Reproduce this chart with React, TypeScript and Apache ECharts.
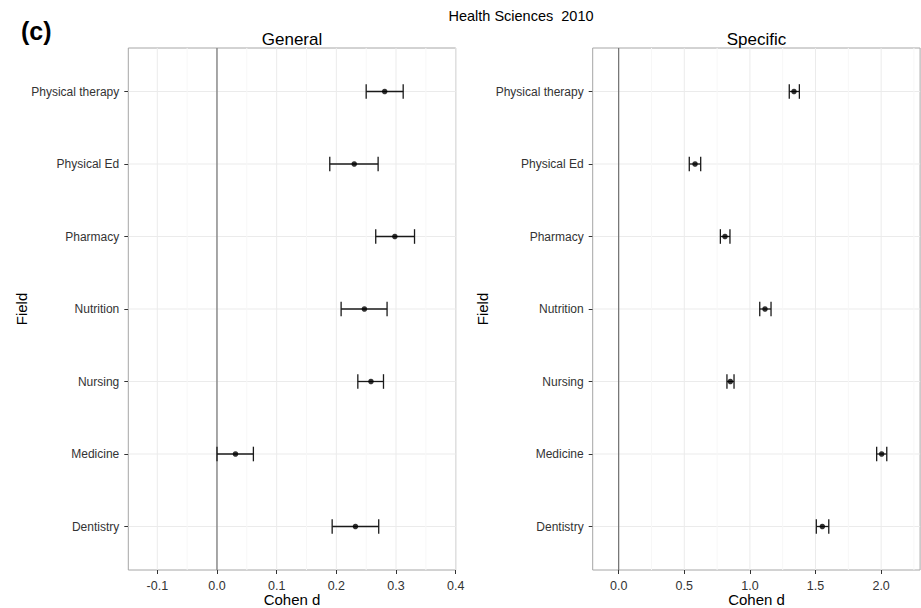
import React, { useEffect, useRef } from "react";
import * as echarts from "echarts";

// Fields, listed from the top row to the bottom row
const fields = [
  "Physical therapy",
  "Physical Ed",
  "Pharmacy",
  "Nutrition",
  "Nursing",
  "Medicine",
  "Dentistry",
];

// General: Cohen d with lower / upper interval ends
const generalD = [0.281, 0.23, 0.298, 0.247, 0.258, 0.031, 0.232];
const generalLo = [0.25, 0.189, 0.266, 0.208, 0.236, 0.0, 0.193];
const generalHi = [0.312, 0.27, 0.331, 0.285, 0.279, 0.061, 0.271];

// Specific: Cohen d with lower / upper interval ends
const specificD = [1.336, 0.582, 0.81, 1.115, 0.851, 2.004, 1.552];
const specificLo = [1.3, 0.538, 0.775, 1.075, 0.825, 1.966, 1.506];
const specificHi = [1.377, 0.625, 0.848, 1.161, 0.879, 2.043, 1.601];

// Tick labels and minor grid positions
const generalTicks = [-0.1, 0.0, 0.1, 0.2, 0.3, 0.4];
const generalMinor = [-0.05, 0.05, 0.15, 0.25, 0.35];
const specificTicks = [0.0, 0.5, 1.0, 1.5, 2.0];
const specificMinor = [0.25, 0.75, 1.25, 1.75, 2.25];

const FONT = '"Liberation Sans", Arial, Helvetica, sans-serif';
const N = fields.length;
const rowPos = fields.map((_, i) => N - i); // top row sits at the highest position
const yTicks = rowPos.slice().sort((a, b) => a - b);

function gridRows(ticks: number[], minor: number[]) {
  const rows: number[][] = [];
  minor.forEach((v) => rows.push([v, 4, 1]));
  ticks.forEach((v) => rows.push([v, 4, 0]));
  yTicks.forEach((p) => rows.push([0, p, 2]));
  rows.push([0, 4, 3]);
  return rows;
}

const gridRender = (params: any, api: any) => {
  const cs = params.coordSys;
  const kind = api.value(2);
  const pt = api.coord([api.value(0), api.value(1)]);
  if (kind === 2) {
    return {
      type: "line",
      shape: { x1: cs.x, y1: pt[1], x2: cs.x + cs.width, y2: pt[1] },
      style: { stroke: "#ebebeb", lineWidth: 1 },
    };
  }
  const stroke = kind === 0 ? "#ebebeb" : kind === 1 ? "#f7f7f7" : "#666666";
  return {
    type: "line",
    z2: kind === 3 ? 5 : 1,
    shape: { x1: pt[0], y1: cs.y, x2: pt[0], y2: cs.y + cs.height },
    style: { stroke, lineWidth: kind === 3 ? 1.1 : 1 },
  };
};

const errRender = (params: any, api: any) => {
  const y = api.value(1);
  const a = api.coord([api.value(2), y]);
  const b = api.coord([api.value(3), y]);
  const h = 7.3;
  const style = { stroke: "#1a1a1a", lineWidth: 1.3 };
  return {
    type: "group",
    children: [
      { type: "line", shape: { x1: a[0], y1: a[1], x2: b[0], y2: b[1] }, style },
      { type: "line", shape: { x1: a[0], y1: a[1] - h, x2: a[0], y2: a[1] + h }, style },
      { type: "line", shape: { x1: b[0], y1: b[1] - h, x2: b[0], y2: b[1] + h }, style },
    ],
  };
};

function xAxisFor(idx: number, min: number, max: number, ticks: number[]) {
  return {
    type: "value",
    gridIndex: idx,
    position: "bottom",
    min,
    max,
    axisLine: { show: false, onZero: false },
    splitLine: { show: false },
    axisTick: {
      show: true,
      length: 4,
      customValues: ticks,
      lineStyle: { color: "#333", width: 1 },
    },
    axisLabel: {
      customValues: ticks,
      margin: 9,
      fontSize: 12.5,
      fontFamily: FONT,
      color: "#333",
      formatter: (v: number) => v.toFixed(1),
    },
  };
}

function yAxisFor(idx: number) {
  return {
    type: "value",
    gridIndex: idx,
    position: "left",
    min: 0.4,
    max: N + 0.6,
    axisLine: { show: false, onZero: false },
    splitLine: { show: false },
    axisTick: {
      show: true,
      length: 4,
      customValues: yTicks,
      lineStyle: { color: "#333", width: 1 },
    },
    axisLabel: {
      customValues: yTicks,
      margin: 9,
      fontSize: 12,
      fontFamily: FONT,
      color: "#333",
      formatter: (v: number) => fields[N - Math.round(v)],
    },
  };
}

const seriesFor = (idx: number, d: number[], lo: number[], hi: number[], ticks: number[], minor: number[]) => [
  {
    type: "custom",
    xAxisIndex: idx,
    yAxisIndex: idx,
    z: 1,
    silent: true,
    renderItem: gridRender,
    data: gridRows(ticks, minor),
  },
  {
    type: "custom",
    xAxisIndex: idx,
    yAxisIndex: idx,
    z: 3,
    silent: true,
    renderItem: errRender,
    data: d.map((v, i) => [v, rowPos[i], lo[i], hi[i]]),
  },
  {
    type: "scatter",
    xAxisIndex: idx,
    yAxisIndex: idx,
    z: 4,
    symbol: "circle",
    symbolSize: 5.5,
    itemStyle: { color: "#000" },
    data: d.map((v, i) => [v, rowPos[i]]),
  },
];

export default function App() {
  const ref = useRef<HTMLDivElement>(null);

  useEffect(() => {
    document.body.style.margin = "0";
    if (!ref.current) return;
    const chart = echarts.init(ref.current, null, { renderer: "svg" });
    const plotTop = 48;
    const plotH = 522;
    chart.setOption({
      animation: false,
      backgroundColor: "#ffffff",
      grid: [
        {
          left: 128.3,
          top: plotTop,
          width: 327.4,
          height: plotH,
          show: true,
          borderColor: "#a6a6a6",
          borderWidth: 1,
          backgroundColor: "transparent",
        },
        {
          left: 592.7,
          top: plotTop,
          width: 327.4,
          height: plotH,
          show: true,
          borderColor: "#a6a6a6",
          borderWidth: 1,
          backgroundColor: "transparent",
        },
      ],
      xAxis: [
        xAxisFor(0, -0.1486, 0.4, generalTicks),
        xAxisFor(1, -0.198, 2.297, specificTicks),
      ],
      yAxis: [yAxisFor(0), yAxisFor(1)],
      series: [
        ...seriesFor(0, generalD, generalLo, generalHi, generalTicks, generalMinor),
        ...seriesFor(1, specificD, specificLo, specificHi, specificTicks, specificMinor),
      ],
      graphic: [
        {
          type: "text",
          x: 21,
          y: 31,
          style: { text: "(c)", font: `bold 25px ${FONT}`, fill: "#000", align: "left", verticalAlign: "middle" },
        },
        {
          type: "text",
          x: 521,
          y: 16,
          style: { text: "Health Sciences\u00a0\u00a02010", font: `14.5px ${FONT}`, fill: "#000", align: "center", verticalAlign: "middle" },
        },
        {
          type: "text",
          x: 292,
          y: 39,
          style: { text: "General", font: `17px ${FONT}`, fill: "#000", align: "center", verticalAlign: "middle" },
        },
        {
          type: "text",
          x: 756.5,
          y: 39,
          style: { text: "Specific", font: `17px ${FONT}`, fill: "#000", align: "center", verticalAlign: "middle" },
        },
        {
          type: "text",
          x: 292,
          y: 599.5,
          style: { text: "Cohen d", font: `15px ${FONT}`, fill: "#000", align: "center", verticalAlign: "middle" },
        },
        {
          type: "text",
          x: 756.5,
          y: 599.5,
          style: { text: "Cohen d", font: `15px ${FONT}`, fill: "#000", align: "center", verticalAlign: "middle" },
        },
        {
          type: "text",
          x: 21.5,
          y: 309,
          rotation: Math.PI / 2,
          style: { text: "Field", font: `15px ${FONT}`, fill: "#000", align: "center", verticalAlign: "middle" },
        },
        {
          type: "text",
          x: 482,
          y: 309,
          rotation: Math.PI / 2,
          style: { text: "Field", font: `15px ${FONT}`, fill: "#000", align: "center", verticalAlign: "middle" },
        },
      ],
    });
    return () => chart.dispose();
  }, []);

  return (
    <div
      ref={ref}
      style={{ position: "fixed", left: 0, top: 0, width: 921, height: 608 }}
    />
  );
}
